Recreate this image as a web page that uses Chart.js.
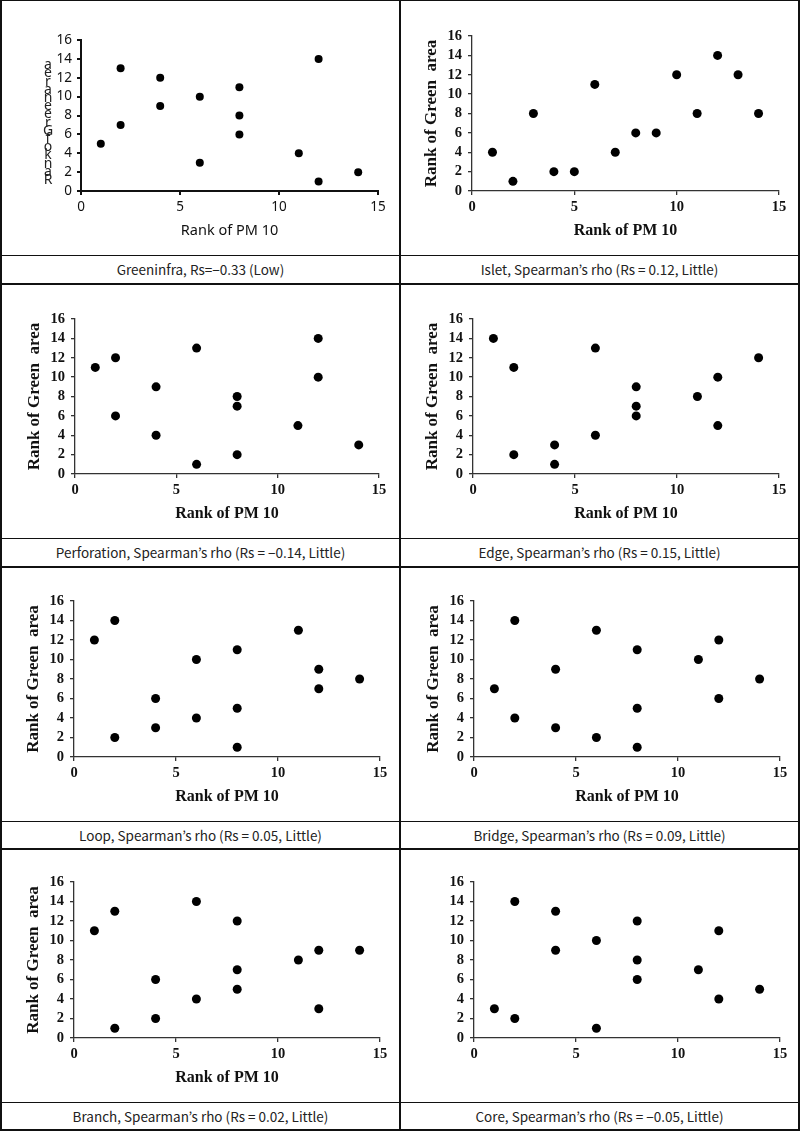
<!DOCTYPE html>
<html>
<head>
<meta charset="utf-8">
<script src="https://cdn.jsdelivr.net/npm/chart.js@4.4.0/dist/chart.umd.min.js"></script>
<style>
  html, body { margin: 0; padding: 0; background: #fff; }
  #wrap { position: relative; width: 800px; height: 1131px; overflow: hidden; background: #fff; }
  .ln { position: absolute; background: #111; z-index: 5; }
  canvas { position: absolute; z-index: 1; }
  .cap { position: absolute; z-index: 2; text-align: center; font-family: "Noto Sans CJK KR", "Noto Sans", sans-serif; font-size: 13.5px; color: #222; white-space: pre; }
</style>
</head>
<body>
<div id="wrap"></div>
<script>
// ---------------- DATA ----------------
const xRank  = [1, 2, 2, 4, 4, 6, 6, 8, 8, 8, 11, 12, 12, 14];
const xIslet = [1, 2, 3, 4, 5, 6, 7, 8, 9, 10, 11, 12, 13, 14];

const yGreeninfra  = [5, 13, 7, 12, 9, 10, 3, 11, 8, 6, 4, 14, 1, 2];
const yIslet       = [4, 1, 8, 2, 2, 11, 4, 6, 6, 12, 8, 14, 12, 8];
const yPerforation = [11, 12, 6, 9, 4, 13, 1, 8, 7, 2, 5, 14, 10, 3];
const yEdge        = [14, 11, 2, 3, 1, 13, 4, 9, 7, 6, 8, 10, 5, 12];
const yLoop        = [12, 14, 2, 6, 3, 10, 4, 11, 5, 1, 13, 9, 7, 8];
const yBridge      = [7, 14, 4, 9, 3, 13, 2, 11, 5, 1, 10, 12, 6, 8];
const yBranch      = [11, 13, 1, 6, 2, 14, 4, 12, 7, 5, 8, 9, 3, 9];
const yCore        = [3, 14, 2, 13, 9, 10, 1, 12, 8, 6, 7, 11, 4, 5];

const xTicks = [0, 5, 10, 15];
const yTicks = [0, 2, 4, 6, 8, 10, 12, 14, 16];

const captions = [
  "Greeninfra, Rs=\u22120.33 (Low)",
  "Islet, Spearman\u2019s rho (Rs = 0.12, Little)",
  "Perforation, Spearman\u2019s rho (Rs = \u22120.14, Little)",
  "Edge, Spearman\u2019s rho (Rs = 0.15, Little)",
  "Loop, Spearman\u2019s rho (Rs = 0.05, Little)",
  "Bridge, Spearman\u2019s rho (Rs = 0.09, Little)",
  "Branch, Spearman\u2019s rho (Rs = 0.02, Little)",
  "Core, Spearman\u2019s rho (Rs = \u22120.05, Little)"
];
const xTitle = "Rank of PM 10";
const yTitle = "Rank of Green  area";

// ---------------- LAYOUT ----------------
const wrap = document.getElementById('wrap');
function line(x, y, w, h) {
  const d = document.createElement('div');
  d.className = 'ln';
  d.style.left = x + 'px'; d.style.top = y + 'px';
  d.style.width = w + 'px'; d.style.height = h + 'px';
  wrap.appendChild(d);
}
line(0, 0, 800, 1);
line(0, 0, 2, 1131);
line(798, 0, 2, 1131);
line(399, 0, 2, 1131);
const capBands = [[255, 283], [538, 566], [821, 848], [1102, 1129]];
capBands.forEach(([a, b]) => { line(0, a, 800, 1); line(0, b, 800, 2); });

const rows = [[1, 255], [285, 538], [568, 821], [850, 1102]];
const cols = [[2, 399], [401, 798]];

// desired plot areas (page coords): left, right, top, bottom
const plotAreas = [
  [81, 378, 40, 191], [472, 779, 36, 191],
  [75, 379, 319, 474], [473, 779, 319, 474],
  [74, 380, 601, 757], [474, 780, 601, 757],
  [74, 380, 882, 1038], [474, 780, 882, 1038]
];

const yData = [yGreeninfra, yIslet, yPerforation, yEdge, yLoop, yBridge, yBranch, yCore];
const xData = [xRank, xIslet, xRank, xRank, xRank, xRank, xRank, xRank];

for (let i = 0; i < 8; i++) {
  const r = Math.floor(i / 2), c = i % 2;
  const [a, b] = capBands[r];
  const d = document.createElement('div');
  d.className = 'cap';
  d.style.left = cols[c][0] + 'px';
  d.style.width = (cols[c][1] - cols[c][0]) + 'px';
  d.style.top = (a + 1) + 'px';
  d.style.height = (b - a - 1) + 'px';
  d.style.lineHeight = (b - a - 1) + 'px';
  d.textContent = captions[i];
  wrap.appendChild(d);
}

// stacked vertical letters for the first chart's y title
const stackedTitle = {
  id: 'stackedTitle',
  afterDraw(chart) {
    if (!chart.options.plugins.stackedTitle || !chart.options.plugins.stackedTitle.on) return;
    const ctx = chart.ctx;
    const letters = "Rank of Green area".replace(/ /g, '').split('');
    ctx.save();
    ctx.fillStyle = '#222';
    ctx.font = '14px "Noto Sans", sans-serif';
    ctx.textAlign = 'center';
    ctx.textBaseline = 'middle';
    const x = 46, yb = 179, step = 8.2;
    letters.forEach((ch, k) => ctx.fillText(ch, x, yb - k * step));
    ctx.restore();
  }
};

const serifBold = (s) => ({ family: '"Liberation Serif", "Times New Roman", serif', size: s, weight: 'bold' });
const sans = (s) => ({ family: '"Noto Sans", sans-serif', size: s, weight: 'normal' });

function makeChart(i) {
  const r = Math.floor(i / 2), c = i % 2;
  const cx = cols[c][0], cy = rows[r][0];
  const cw = cols[c][1] - cols[c][0], ch = rows[r][1] - rows[r][0];
  const canvas = document.createElement('canvas');
  canvas.width = cw; canvas.height = ch;
  canvas.style.left = cx + 'px'; canvas.style.top = cy + 'px';
  canvas.style.width = cw + 'px'; canvas.style.height = ch + 'px';
  wrap.appendChild(canvas);

  const first = i === 0;
  const pts = xData[i].map((x, k) => ({ x: x, y: yData[i][k] }));
  const tickFont = first ? sans(13.5) : serifBold(14.5);
  const axisColor = first ? '#111' : '#333';
  const axisW = first ? 2 : 1.3;
  const showXTitle = i !== 7;
  const showYTitle = i !== 0 && i !== 7;

  const [pl, pr, pt, pb] = plotAreas[i];
  const want = { left: pl - cx, right: pr - cx, top: pt - cy, bottom: pb - cy };
  const pad = { left: 10, right: 15, top: 10, bottom: 10 };

  const chart = new Chart(canvas, {
    type: 'scatter',
    data: {
      datasets: [{
        data: pts,
        backgroundColor: '#000',
        borderColor: '#000',
        borderWidth: 0,
        pointRadius: first ? 4 : 4.5,
        pointHoverRadius: first ? 4 : 4.5
      }]
    },
    plugins: [stackedTitle],
    options: {
      responsive: false,
      animation: false,
      devicePixelRatio: 1,
      events: [],
      layout: { padding: pad },
      plugins: {
        legend: { display: false },
        tooltip: { enabled: false },
        stackedTitle: { on: first }
      },
      scales: {
        x: {
          type: 'linear', min: 0, max: 15,
          afterBuildTicks: (s) => { s.ticks = xTicks.map(v => ({ value: v })); },
          ticks: { font: tickFont, color: '#111', padding: 4, maxRotation: 0, autoSkip: false },
          grid: { display: true, drawOnChartArea: false, drawTicks: true, tickLength: 4, color: axisColor, lineWidth: axisW },
          border: { display: true, color: axisColor, width: axisW },
          title: {
            display: showXTitle, text: xTitle,
            font: first ? sans(14.5) : serifBold(16), color: '#111',
            padding: { top: first ? 3 : 1, bottom: 0 }
          }
        },
        y: {
          type: 'linear', min: 0, max: 16,
          afterBuildTicks: (s) => { s.ticks = yTicks.map(v => ({ value: v })); },
          ticks: { font: tickFont, color: '#111', padding: first ? 5 : 6, autoSkip: false },
          grid: { display: true, drawOnChartArea: false, drawTicks: true, tickLength: 4, color: axisColor, lineWidth: axisW },
          border: { display: true, color: axisColor, width: axisW },
          title: {
            display: showYTitle, text: yTitle,
            font: serifBold(17), color: '#111',
            padding: { top: 0, bottom: 0 }
          }
        }
      }
    }
  });

  for (let it = 0; it < 3; it++) {
    const ca = chart.chartArea;
    pad.left += want.left - ca.left;
    pad.top += want.top - ca.top;
    pad.right += ca.right - want.right;
    pad.bottom += ca.bottom - want.bottom;
    chart.options.layout.padding = { left: pad.left, right: pad.right, top: pad.top, bottom: pad.bottom };
    chart.update();
  }
  return chart;
}

for (let i = 0; i < 8; i++) makeChart(i);
</script>
</body>
</html>
